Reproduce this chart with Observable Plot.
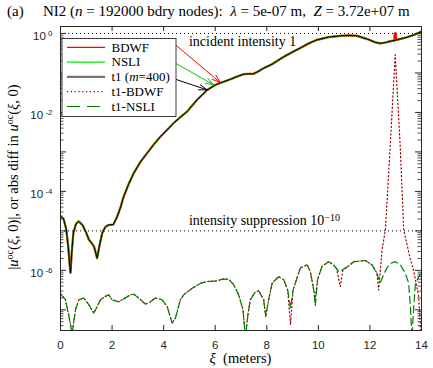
<!DOCTYPE html>
<html><head><meta charset="utf-8">
<script src="https://cdn.jsdelivr.net/npm/d3@7"></script>
<script src="https://cdn.jsdelivr.net/npm/@observablehq/plot@0.6"></script>
<style>
body{margin:0;background:#fff;}
#chart{position:relative;width:433px;height:368px;}
</style></head><body><div id="chart"></div>
<script>
// ---- data ----
const t1Xi  = [0,0.12,0.22,0.30,0.36,0.39,0.43,0.5,0.6,0.71,0.85,1.0,1.1,1.2,1.3,1.42,1.52,1.62,1.74,1.86,2.05,2.2,2.33,2.45,2.64,2.84,3.1,3.36,3.62,3.88,4.13,4.39,4.65,4.91,5.1,5.3,5.5,5.69,6.01,6.3,6.59,6.85,7.1,7.3,7.49,7.7,7.88,8.2,8.66,9.0,9.3,9.6,9.95,10.4,10.85,11.2,11.5,11.9,12.2,12.4,12.6,12.85,13.05,13.4,13.7,14.0];
const t1Val = [2.4e-5,2.0e-5,1.12e-5,4.0e-6,1.26e-6,8.7e-7,2.5e-6,8.9e-6,1.5e-5,1.74e-5,1.41e-5,8.9e-6,6.0e-6,5.0e-6,4.0e-6,2.04e-6,4.5e-6,8.9e-6,1.26e-5,1.41e-5,1.45e-5,2.3e-5,4.0e-5,7.4e-5,1.51e-4,2.9e-4,5.6e-4,9.3e-4,1.55e-3,2.45e-3,3.6e-3,5.4e-3,7.6e-3,1.05e-2,1.48e-2,2.1e-2,2.8e-2,3.7e-2,5.0e-2,5.9e-2,6.9e-2,8.1e-2,9.3e-2,9.5e-2,9.5e-2,0.112,0.132,0.166,0.257,0.339,0.427,0.55,0.69,0.81,0.87,0.89,0.87,0.72,0.60,0.56,0.59,0.65,0.69,0.79,0.91,1.12];
const bdwfSpikeXi  = [12.95,12.96,13.0,13.01];
const bdwfSpikeVal = [0.66,1.0,1.0,0.68];
const nsliDiffXi  = [0,0.19,0.31,0.45,0.58,0.71,0.90,1.10,1.29,1.42,1.55,1.74,1.87,2.00,2.26,2.39,2.71,2.84,3.03,3.29,3.49,3.68,3.94,4.14,4.33,4.46,4.65,4.78,5.10,5.43,5.69,6.07,6.27,6.52,6.72,6.91,7.08,7.17,7.26,7.36,7.56,7.69,7.88,7.96,8.07,8.21,8.46,8.66,8.81,8.92,9.02,9.15,9.30,9.56,9.69,9.82,9.88,9.97,10.14,10.40,10.59,10.79,10.92,11.17,11.37,11.82,12.08,12.27,12.40,12.53,12.66,12.8,12.98,13.18,13.37,13.50,13.57,13.63,13.70,13.76,13.89,14.0];
const nsliDiffVal = [2.6e-7,1.8e-7,7.9e-8,2.5e-8,1.0e-7,1.8e-7,2.0e-7,1.35e-7,8.3e-8,1.2e-7,1.8e-7,2.2e-7,2.4e-7,1.8e-7,1.6e-7,1.8e-7,2.4e-7,2.5e-7,2.0e-7,1.4e-7,1.6e-7,2.0e-7,1.8e-7,1.2e-7,4.6e-8,6.3e-8,1.8e-7,2.4e-7,3.5e-7,4.7e-7,5.2e-7,5.4e-7,6.0e-7,6.0e-7,4.3e-7,2.4e-7,1.0e-7,2.0e-8,6.8e-8,1.8e-7,2.9e-7,3.0e-7,1.8e-7,6.8e-8,1.8e-7,4.8e-7,6.9e-7,5.8e-7,3.2e-7,1.1e-7,3.2e-7,5.8e-7,1.15e-6,1.38e-6,9.3e-7,3.2e-7,1.26e-7,5.8e-7,1.26e-6,1.66e-6,1.38e-6,9.3e-7,1.02e-6,1.29e-6,1.66e-6,1.78e-6,1.38e-6,8.5e-7,4.8e-7,7.8e-7,1.15e-6,1.5e-6,1.66e-6,1.38e-6,8.5e-7,4.8e-7,1.2e-7,2.0e-8,1.2e-7,4.3e-7,6.9e-7,8.7e-7];
const bdwfDiffXi  = [0,0.19,0.31,0.45,0.58,0.71,0.90,1.10,1.29,1.42,1.55,1.74,1.87,2.00,2.26,2.39,2.71,2.84,3.03,3.29,3.49,3.68,3.94,4.14,4.33,4.46,4.65,4.78,5.10,5.43,5.69,6.07,6.27,6.52,6.72,6.91,7.08,7.17,7.26,7.36,7.56,7.69,7.88,7.96,8.07,8.21,8.46,8.66,8.81,8.92,9.02,9.15,9.30,9.56,9.69,9.82,9.88,9.97,10.14,10.40,10.59,10.70,10.85,10.95,11.17,11.37,11.82,12.08,12.27,12.34,12.47,12.6,12.8,12.98,13.17,13.31,13.37,13.57,13.69,13.89,13.97];
const bdwfDiffVal = [2.6e-7,1.8e-7,7.9e-8,2.5e-8,1.0e-7,1.8e-7,2.0e-7,1.35e-7,8.3e-8,1.2e-7,1.8e-7,2.2e-7,2.4e-7,1.8e-7,1.6e-7,1.8e-7,2.4e-7,2.5e-7,2.0e-7,1.4e-7,1.6e-7,2.0e-7,1.8e-7,1.2e-7,4.6e-8,6.3e-8,1.8e-7,2.4e-7,3.5e-7,4.7e-7,5.2e-7,5.4e-7,6.0e-7,6.0e-7,4.3e-7,2.4e-7,1.0e-7,2.0e-8,6.8e-8,1.8e-7,2.9e-7,3.0e-7,1.8e-7,6.8e-8,1.8e-7,4.8e-7,6.9e-7,5.8e-7,3.2e-7,4.2e-8,3.2e-7,5.8e-7,1.15e-6,1.38e-6,9.3e-7,3.2e-7,2.0e-7,5.8e-7,1.26e-6,1.66e-6,1.38e-6,1.12e-6,3.9e-7,1.0e-6,1.29e-6,1.66e-6,1.78e-6,1.38e-6,8.5e-7,3.2e-7,3.3e-6,1.07e-5,2.0e-3,0.29,1.6e-3,1.07e-5,7.2e-6,1.86e-6,1.02e-6,2.2e-7,2.5e-8];
const arrowTailXi  = [4.46,4.46,4.46];
const arrowTailVal = [0.513,0.176,0.0692];
const arrowTipXi   = [6.2,5.94,5.69];
const arrowTipVal  = [0.0569,0.0501,0.0372];
const arrowColors  = ["#ff0000","#00cc00","#000000"];
const refLevels = [1, 1e-5];
const xTicks = [0,2,4,6,8,10,12,14];
const yLabelTicks = [1,1e-2,1e-4,1e-6];
const yDecades = [1e-7,1e-6,1e-5,1e-4,1e-3,1e-2,1e-1,1];
const legendNames = ["BDWF","NSLI","t1","t1-BDWF","t1-NSLI"];

// ---- build tables ----
const zip = (xs, ys) => xs.map((x,i)=>({x, y: ys[i]}));
const t1 = zip(t1Xi, t1Val);
const nsli = t1;
const bdwf = zip(t1Xi, t1Val).concat(zip(bdwfSpikeXi, bdwfSpikeVal)).sort((a,b)=>a.x-b.x);
const nsliDiff = zip(nsliDiffXi, nsliDiffVal);
const bdwfDiff = zip(bdwfDiffXi, bdwfDiffVal);
const arrows = arrowTailXi.map((x,i)=>({x1:x, y1:arrowTailVal[i], x2:arrowTipXi[i], y2:arrowTipVal[i], c:arrowColors[i]}));
const yMinor = [];
for (const d of [1e-8,1e-7,1e-6,1e-5,1e-4,1e-3,1e-2,1e-1]) for (let k=2;k<=9;k++){ const v=d*k; if (v>=3e-8 && v<=1.5) yMinor.push(v); }

const W=433, H=368, mL=60, mR=12, mT=26, mB=38;
const pW = W-mL-mR, pH = H-mT-mB;
const axisColor = "#262626";
const serif = "'Liberation Serif', 'DejaVu Serif', serif";

const plot = Plot.plot({
  width: W, height: H,
  marginLeft: mL, marginRight: mR, marginTop: mT, marginBottom: mB,
  style: {fontFamily: "'Liberation Sans', Arial, sans-serif", fontSize: "11.5px", color: axisColor, background: "#fff"},
  x: {type: "linear", domain: [0,14]},
  y: {type: "log", domain: [3e-8, 1.5]},
  marks: [
    Plot.ruleY(refLevels, {y: d=>d, stroke: "#000", strokeWidth: 1, strokeDasharray: "1,3"}),
    Plot.line(bdwfDiff, {x:"x", y:"y", stroke:"#a00000", strokeWidth:1.2, strokeDasharray:"1.2,2.6", clip:true}),
    Plot.line(nsliDiff, {x:"x", y:"y", stroke:"#008000", strokeWidth:1.2, strokeDasharray:"7,4", clip:true}),
    Plot.line(bdwf, {x:"x", y:"y", stroke:"#ff0000", strokeWidth:2.2, clip:true}),
    Plot.line(nsli, {x:"x", y:"y", stroke:"#00dd00", strokeWidth:1.5, clip:true}),
    Plot.line(t1, {x:"x", y:"y", stroke:"#000", strokeWidth:1, clip:true}),
    Plot.arrow(arrows, {x1:"x1", y1:"y1", x2:"x2", y2:"y2", stroke:"c", strokeWidth:1, headAngle:36, headLength:13}),
    Plot.tickX(xTicks, {x:d=>d, insetTop: pH-5, stroke: axisColor}),
    Plot.tickX(xTicks, {x:d=>d, insetBottom: pH-5, stroke: axisColor}),
    Plot.tickY(yDecades, {y:d=>d, insetRight: pW-6, stroke: axisColor}),
    Plot.tickY(yDecades, {y:d=>d, insetLeft: pW-6, stroke: axisColor}),
    Plot.tickY(yMinor, {y:d=>d, insetRight: pW-3.5, stroke: axisColor, strokeWidth: 0.8}),
    Plot.tickY(yMinor, {y:d=>d, insetLeft: pW-3.5, stroke: axisColor, strokeWidth: 0.8}),
    Plot.frame({stroke: axisColor, strokeWidth: 1}),
    Plot.axisX(xTicks, {tickSize: 0, tickPadding: 10, label: null, fill: axisColor}),
    Plot.axisY(yLabelTicks, {tickSize: 0, tickPadding: 8, dy: 3, label: null, fill: axisColor,
      tickFormat: d => String(Math.round(Math.log10(d)))})
  ]
});
document.getElementById("chart").appendChild(plot);

const svg = d3.select(plot);
const sx = plot.scale("x"), sy = plot.scale("y");

// superscript exponents on y tick labels
svg.selectAll('g[aria-label="y-axis tick label"] text').each(function(){
  const e = this.textContent;
  const t = d3.select(this);
  t.text("10");
  t.append("tspan").attr("dy", "-0.55em").attr("font-size", "8px").text(" " + e);
});

const addText = (x, y, size) => svg.append("text").attr("x", x).attr("y", y)
  .attr("text-anchor", "start").attr("font-family", serif).attr("font-size", size).attr("fill", "#000");

// annotations
addText(sx.apply(5.0), sy.apply(0.48), "14px").text("incident intensity 1");
const ann2 = addText(sx.apply(5.0), sy.apply(1.35e-5), "14px");
ann2.append("tspan").text("intensity suppression 10");
ann2.append("tspan").attr("dy", "-0.45em").attr("font-size", "10px").text("−10");

// title
addText(7, 16, "15px").text("(a)");
const t2 = addText(43, 16, "15px");
t2.append("tspan").text("NI2 (");
t2.append("tspan").attr("font-style", "italic").text("n");
t2.append("tspan").text(" = 192000 bdry nodes):  ");
t2.append("tspan").attr("font-style", "italic").text("λ");
t2.append("tspan").text(" = 5e-07 m,  ");
t2.append("tspan").attr("font-style", "italic").text("Z");
t2.append("tspan").text(" = 3.72e+07 m");

// x label
const xl = addText((mL + W - mR)/2, 363, "14.5px").attr("text-anchor", "middle");
xl.append("tspan").attr("font-style", "italic").text("ξ");
xl.append("tspan").text("  (meters)");

// y label
const yl = svg.append("text").attr("transform", "translate(18,177) rotate(-90)").attr("text-anchor", "middle")
  .attr("font-family", serif).attr("font-size", "14.5px").attr("fill", "#000");
yl.append("tspan").text("|");
yl.append("tspan").attr("font-style", "italic").text("u");
yl.append("tspan").attr("font-size", "10px").attr("dy", "-0.5em").text("oc");
yl.append("tspan").attr("dy", "0.35em").text("(");
yl.append("tspan").attr("font-style", "italic").text("ξ");
yl.append("tspan").text(", 0)|, or abs diff in ");
yl.append("tspan").attr("font-style", "italic").text("u");
yl.append("tspan").attr("font-size", "10px").attr("dy", "-0.5em").text("oc");
yl.append("tspan").attr("dy", "0.35em").text("(");
yl.append("tspan").attr("font-style", "italic").text("ξ");
yl.append("tspan").text(", 0)");

// legend
const lg = svg.append("g");
lg.append("rect").attr("x", 62).attr("y", 38.5).attr("width", 114).attr("height", 78)
  .attr("fill", "#fff").attr("stroke", axisColor).attr("stroke-width", 0.9);
const legendStyles = [
  {stroke:"#ff0000", w:1.3, dash:null},
  {stroke:"#00ee00", w:1.1, dash:null},
  {stroke:"#777777", w:2.2, dash:null},
  {stroke:"#a00000", w:1.2, dash:"1.2,2.6"},
  {stroke:"#008000", w:1.2, dash:"13,7"}
];
legendNames.forEach((name, i) => {
  const yy = 47.3 + i*14.8;
  const s = legendStyles[i];
  const ln = lg.append("line").attr("x1", 67).attr("x2", 105).attr("y1", yy).attr("y2", yy)
    .attr("stroke", s.stroke).attr("stroke-width", s.w);
  if (s.dash) ln.attr("stroke-dasharray", s.dash);
  const tx = lg.append("text").attr("x", 111.5).attr("y", yy + 4.3).attr("text-anchor", "start")
    .attr("font-family", serif).attr("font-size", "13px").attr("fill", "#000");
  if (name === "t1") {
    tx.append("tspan").text("t1 (");
    tx.append("tspan").attr("font-style", "italic").text("m");
    tx.append("tspan").text("=400)");
  } else tx.text(name);
});
</script></body></html>
